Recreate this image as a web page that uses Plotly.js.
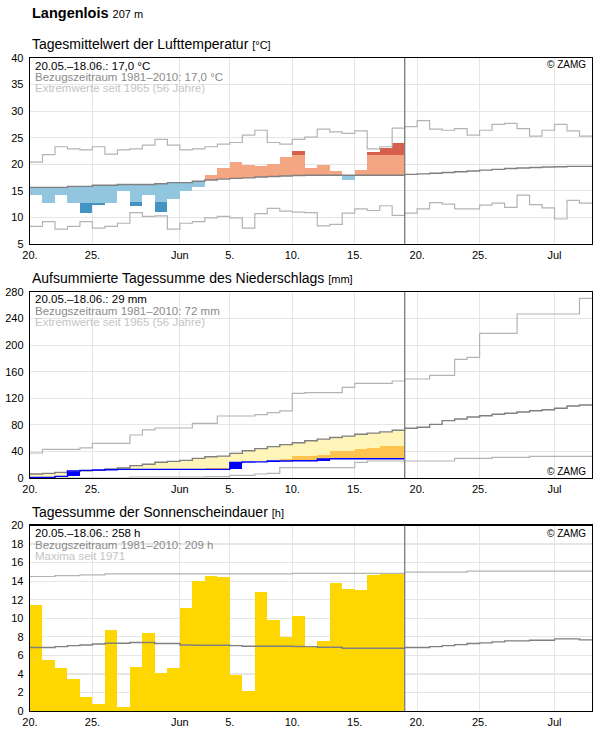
<!DOCTYPE html>
<html>
<head>
<meta charset="utf-8">
<script src="https://cdn.plot.ly/plotly-3.0.1.min.js"></script>
<style>
  html, body { margin: 0; padding: 0; background: #fff; }
  #chart { width: 596px; height: 729px; }
</style>
</head>
<body>
<div id="chart"></div>
<script>
// Station Langenlois, 20 May – 3 July 2021: current season vs. 1981–2010 climate

// ---- x axis ----
const tickDates = ['2021-05-20', '2021-05-25', '2021-06-01', '2021-06-05', '2021-06-10',
                   '2021-06-15', '2021-06-20', '2021-06-25', '2021-07-01'];
const tickLabels = ['20.', '25.', 'Jun', '5.', '10.', '15.', '20.', '25.', 'Jul'];
const todayLine = '2021-06-19';

// ---- air temperature, daily mean [°C] ----
// climate mean 1981–2010 (one value per day, 20.05.–03.07.)
const tempMean = [15.65, 15.65, 15.65, 15.85, 15.85, 16.05, 16.05, 16.2, 16.2, 16.2,
                  16.35, 16.55, 16.55, 16.8, 17.05, 17.2, 17.35, 17.45, 17.6, 17.7,
                  17.8, 17.9, 17.95, 17.95, 17.95, 17.95, 17.95, 17.95, 17.95, 17.95,
                  18.1, 18.2, 18.3, 18.45, 18.6, 18.75, 18.9, 19.05, 19.2, 19.3,
                  19.4, 19.5, 19.55, 19.6, 19.6];
// highest / lowest daily mean since 1965
const tempMax = [20.4, 21.8, 23.3, 22.9, 22.7, 23.3, 21.9, 22.7, 22.9, 23.6,
                 24.7, 23.6, 22.7, 22.9, 23.3, 23.8, 24.1, 25.5, 26.4, 24.1,
                 23.8, 24.7, 25.1, 26.6, 26.1, 25.8, 26.3, 22.9, 23.3, 26.8,
                 27.1, 28.2, 26.6, 26.4, 26.7, 25.5, 26.4, 27.5, 27.7, 26.7,
                 25.3, 26.4, 27.5, 26.3, 25.3];
const tempMin = [8.3, 9.2, 7.8, 8.3, 9.2, 8.0, 8.3, 8.9, 10.9, 10.2,
                 10.3, 7.8, 8.9, 9.2, 9.9, 10.2, 9.9, 8.0, 10.7, 11.7,
                 11.2, 11.0, 10.9, 8.4, 8.7, 10.8, 11.6, 11.3, 12.2, 10.4,
                 10.8, 11.6, 12.8, 12.5, 11.6, 11.6, 12.3, 12.7, 11.9, 14.2,
                 12.4, 11.8, 9.7, 13.2, 12.7];
// measured 2021 (20.05.–18.06.)
const tempDay = [14.3, 12.8, 14.3, 12.8, 10.9, 12.4, 12.8, 14.9, 12.15, 14.3,
                 11.1, 13.4, 15.0, 15.7, 17.9, 19.3, 20.5, 19.8, 19.6, 20.0,
                 21.3, 22.5, 19.3, 19.8, 18.7, 17.0, 19.0, 22.4, 23.0, 24.0];
// edge of the normal range where a day leaves it (null = stays inside)
const tempOutsideFrom = [null, null, null, null, 12.8, 12.8, null, null, 12.9, null,
                         12.9, null, null, null, null, null, null, null, null, null,
                         null, 21.8, null, null, null, null, null, 21.7, 21.7, 21.8];

// ---- precipitation, accumulated [mm] ----
const precipMean = [6.0, 7.0, 8.5, 10.0, 11.0, 11.5, 13.5, 15.0, 18.6, 20.6,
                    23.6, 25.1, 26.6, 29.6, 32.0, 33.0, 37.1, 41.1, 44.2, 47.2,
                    50.2, 53.0, 56.0, 58.5, 61.0, 63.0, 65.8, 67.5, 69.5, 71.8,
                    74.8, 76.3, 80.8, 86.3, 88.8, 91.8, 93.8, 95.9, 97.4, 99.4,
                    101.3, 102.8, 104.9, 108.4, 109.9];
const precipMax = [37.6, 43.2, 43.2, 43.2, 45.2, 52.2, 52.2, 52.2, 64.7, 72.3,
                   75.3, 75.3, 75.3, 82.3, 82.3, 93.3, 93.3, 93.3, 95.3, 98.3,
                   100.9, 127.4, 128.5, 128.5, 128.5, 136.5, 142.5, 142.5, 142.5, 146.0,
                   149.0, 149.0, 154.5, 154.5, 178.6, 181.6, 217.8, 217.8, 217.8, 246.9,
                   246.9, 246.9, 246.9, 246.9, 270.4];
const precipMin = [0, 0, 0, 0, 0, 0, 0, 0, 1.5, 1.5,
                   1.5, 1.5, 1.5, 1.5, 2.0, 2.0, 4.0, 4.0, 6.0, 7.0,
                   15.6, 15.6, 15.6, 15.6, 15.6, 15.6, 23.6, 25.6, 25.6, 25.6,
                   25.6, 25.6, 25.6, 25.6, 29.6, 29.6, 29.6, 31.1, 31.1, 31.1,
                   32.6, 32.6, 32.6, 32.6, 32.6];
const precipSum = [1.0, 1.0, 2.5, 10.5, 11.5, 12.0, 12.5, 13.0, 13.0, 13.0,
                   13.0, 13.0, 13.0, 13.0, 13.0, 13.0, 23.5, 24.0, 24.2, 25.5,
                   25.5, 26.0, 26.0, 28.5, 29.0, 29.0, 29.0, 29.0, 29.0, 29.0];
// upper edge of the strong-deficit band (null = no band)
const precipDryEdge = [null, null, null, null, null, null, null, null, null, null,
                       null, null, null, null, 14.5, 14.5, null, null, null, null,
                       28.6, 33.1, 33.1, 35.1, 40.6, 40.6, 43.1, 44.6, 48.2, 48.2];

// ---- sunshine duration, daily total [h] ----
const sunMean = [6.84, 6.84, 6.94, 7.05, 7.12, 7.23, 7.31, 7.31, 7.38, 7.38,
                 7.27, 7.27, 7.12, 7.09, 7.09, 7.09, 7.05, 6.98, 6.98, 6.98,
                 6.98, 6.96, 6.94, 6.87, 6.87, 6.76, 6.76, 6.76, 6.76, 6.76,
                 6.84, 6.84, 6.94, 7.05, 7.16, 7.27, 7.34, 7.45, 7.56, 7.56,
                 7.63, 7.63, 7.78, 7.78, 7.67];
const sunMax = [14.5, 14.5, 14.6, 14.6, 14.68, 14.68, 14.79, 14.79, 14.79, 14.79,
                14.79, 14.79, 14.79, 14.79, 14.79, 14.79, 14.79, 14.79, 14.79, 14.79,
                14.79, 14.83, 14.83, 14.83, 14.83, 14.83, 14.83, 14.83, 14.83, 14.83,
                14.97, 14.97, 14.97, 14.97, 14.97, 15.08, 15.08, 15.08, 15.08, 15.08,
                15.08, 15.08, 15.08, 15.08, 15.08];
const sunDay = [11.4, 5.5, 4.65, 3.45, 1.5, 0.75, 8.75, 0.4, 4.75, 8.45,
                4.1, 4.65, 11.15, 14.05, 14.6, 14.4, 3.9, 2.15, 12.85, 9.85,
                8.0, 10.2, 6.95, 7.55, 13.75, 13.2, 13.1, 14.65, 14.85, 14.85];

// ---- panel texts ----
const panelTitles = [
  ['Tagesmittelwert der Lufttemperatur', '[°C]'],
  ['Aufsummierte Tagessumme des Niederschlags', '[mm]'],
  ['Tagessumme der Sonnenscheindauer', '[h]']
];
const panelNotes = [
  ['20.05.–18.06.: 17,0 °C', 'Bezugszeitraum 1981–2010: 17,0 °C', 'Extremwerte seit 1965 (56 Jahre)'],
  ['20.05.–18.06.: 29 mm', 'Bezugszeitraum 1981–2010: 72 mm', 'Extremwerte seit 1965 (56 Jahre)'],
  ['20.05.–18.06.: 258 h', 'Bezugszeitraum 1981–2010: 209 h', 'Maxima seit 1971']
];

// ---- helpers ----
const DAY = 86400000;
const T0 = Date.UTC(2021, 4, 20);
const iso = ms => new Date(ms).toISOString().slice(0, 19).replace('T', ' ');
const dayStart = i => iso(T0 + i * DAY);
const dayMid = i => iso(T0 + i * DAY + DAY / 2);

function stepTrace(vals, axis, color, width) {
  const x = vals.map((_, i) => dayStart(i)).concat(dayStart(vals.length));
  const y = vals.concat(vals[vals.length - 1]);
  return { type: 'scatter', mode: 'lines', x, y, xaxis: 'x' + axis, yaxis: 'y' + axis,
           line: { color, width, shape: 'hv' }, hoverinfo: 'skip' };
}
function barTrace(idx, base, height, color, axis) {
  return { type: 'bar', x: idx.map(dayMid), base, y: height, width: idx.map(() => DAY),
           marker: { color, line: { width: 0 } }, xaxis: 'x' + axis, yaxis: 'y' + axis,
           hoverinfo: 'skip' };
}

const C = {
  coolLight: '#92c5de', coolDark: '#4393c3', warmLight: '#f4a582', warmDark: '#d6604d',
  wet: '#fff5b8', dry: '#fec44f', rain: '#0000ff', sun: '#ffd700',
  climate: '#808080', extreme: '#b4b4b4', grid: '#e6e6e6'
};

const traces = [];

// temperature: departures from the climate mean
{
  const idx = [], base = [], h = [], col = [];
  const dIdx = [], dBase = [], dH = [], dCol = [];
  tempDay.forEach((v, i) => {
    const m = tempMean[i];
    const warm = v >= m;
    const edge = tempOutsideFrom[i] === null ? v : tempOutsideFrom[i];
    idx.push(i); base.push(Math.min(m, edge)); h.push(Math.abs(edge - m));
    col.push(warm ? C.warmLight : C.coolLight);
    if (tempOutsideFrom[i] !== null) {
      dIdx.push(i); dBase.push(Math.min(edge, v)); dH.push(Math.abs(v - edge));
      dCol.push(warm ? C.warmDark : C.coolDark);
    }
  });
  traces.push(barTrace(idx, base, h, col, ''));
  traces.push(barTrace(dIdx, dBase, dH, dCol, ''));
  traces.push(stepTrace(tempMax, '', C.extreme, 1.2));
  traces.push(stepTrace(tempMin, '', C.extreme, 1.2));
  traces.push(stepTrace(tempMean, '', C.climate, 1.4));
}

// precipitation: deficit bands and daily increments
{
  const idx = precipSum.map((_, i) => i);
  traces.push(barTrace(idx, precipSum.slice(),
    precipSum.map((v, i) => Math.max(0, precipMean[i] - v)), C.wet, '2'));
  const oIdx = [], oBase = [], oH = [];
  precipDryEdge.forEach((e, i) => {
    if (e !== null && e > precipSum[i]) { oIdx.push(i); oBase.push(precipSum[i]); oH.push(e - precipSum[i]); }
  });
  traces.push(barTrace(oIdx, oBase, oH, C.dry, '2'));
  const prev = precipSum.map((v, i) => (i === 0 ? 0 : precipSum[i - 1]));
  traces.push(barTrace(idx, prev, precipSum.map((v, i) => v - prev[i]), C.rain, '2'));
  traces.push(stepTrace(precipMax, '2', C.extreme, 1.2));
  traces.push(stepTrace(precipMin, '2', C.extreme, 1.2));
  traces.push(stepTrace(precipMean, '2', C.climate, 1.4));
  traces.push(stepTrace(precipSum, '2', C.rain, 1.4));
}

// sunshine: daily totals
{
  const idx = sunDay.map((_, i) => i);
  traces.push(barTrace(idx, sunDay.map(() => 0), sunDay, C.sun, '3'));
  traces.push(stepTrace(sunMax, '3', C.extreme, 1.2));
  traces.push(stepTrace(sunMean, '3', C.climate, 1.4));
}

// ---- layout ----
const W = 596, H = 729, ML = 30, MR = 4;
const px = x => (x - ML) / (W - ML - MR);
const py = y => 1 - y / H;
const panels = [ // top and bottom of each plot frame, in pixels
  { top: 58, bottom: 244, range: [5, 40], dtick: 5 },
  { top: 292, bottom: 478, range: [0, 280], dtick: 40 },
  { top: 525.5, bottom: 711, range: [0, 20], dtick: 2 }
];
const FONT = 'Liberation Sans, Arial, sans-serif';

const layout = {
  width: W, height: H,
  margin: { l: ML, r: MR, t: 0, b: 0, pad: 0 },
  paper_bgcolor: '#fff', plot_bgcolor: '#fff',
  showlegend: false, barmode: 'overlay', bargap: 0,
  font: { family: FONT, size: 11, color: '#000' },
  annotations: [], shapes: []
};

panels.forEach((p, k) => {
  const s = k === 0 ? '' : String(k + 1);
  layout['xaxis' + s] = {
    type: 'date', range: ['2021-05-20', '2021-07-04'], anchor: 'y' + s,
    tickmode: 'array', tickvals: tickDates, ticktext: tickLabels,
    showgrid: true, gridcolor: C.grid, gridwidth: 1.2,
    showline: true, mirror: true, linecolor: '#000', linewidth: 1.3,
    ticks: '', tickfont: { family: FONT, size: 11, color: '#000' },
    zeroline: false, fixedrange: true
  };
  layout['yaxis' + s] = {
    range: p.range, dtick: p.dtick, tick0: 0, anchor: 'x' + s,
    domain: [py(p.bottom), py(p.top)],
    showgrid: true, gridcolor: C.grid, gridwidth: 1.2,
    showline: true, mirror: true, linecolor: '#000', linewidth: 1.3,
    ticks: 'outside', ticklen: 3, tickcolor: 'rgba(0,0,0,0)',
    tickfont: { family: FONT, size: 11, color: '#000' },
    zeroline: false, fixedrange: true
  };
  // marker for the last day with data
  layout.shapes.push({ type: 'line', xref: 'x' + s, yref: 'y' + s + ' domain',
    x0: todayLine, x1: todayLine, y0: 0, y1: 1, layer: 'above',
    line: { color: C.climate, width: 1.4 } });

  // panel heading
  layout.annotations.push({ xref: 'paper', yref: 'paper', x: px(30), y: py(p.top - 13.5),
    xanchor: 'left', yanchor: 'middle', showarrow: false,
    text: panelTitles[k][0] + ' <span style="font-size:11px">' + panelTitles[k][1] + '</span>',
    font: { family: FONT, size: 14, color: '#000' } });

  // summary lines in the upper left corner
  const noteColors = ['#000000', '#8a8a8a', '#c4c4c4'];
  [7.5, 19, 30.3].forEach((dy, j) => {
    layout.annotations.push({ xref: 'paper', yref: 'paper', x: px(33), y: py(p.top + dy),
      xanchor: 'left', yanchor: 'middle', showarrow: false, text: panelNotes[k][j],
      font: { family: FONT, size: 11.5, color: noteColors[j] } });
  });
});

// station name
layout.annotations.push({ xref: 'paper', yref: 'paper', x: px(30), y: py(13.5),
  xanchor: 'left', yanchor: 'middle', showarrow: false,
  text: '<b>Langenlois</b> <span style="font-size:11px">207 m</span>',
  font: { family: FONT, size: 14.5, color: '#000' } });

// copyright marks
[64.8, 471.5, 533.2].forEach(y => {
  layout.annotations.push({ xref: 'paper', yref: 'paper', x: px(588), y: py(y),
    xanchor: 'right', yanchor: 'middle', showarrow: false, text: '© ZAMG',
    font: { family: FONT, size: 10, color: '#000' } });
});

Plotly.newPlot('chart', traces, layout, { staticPlot: true, displayModeBar: false });
</script>
</body>
</html>
